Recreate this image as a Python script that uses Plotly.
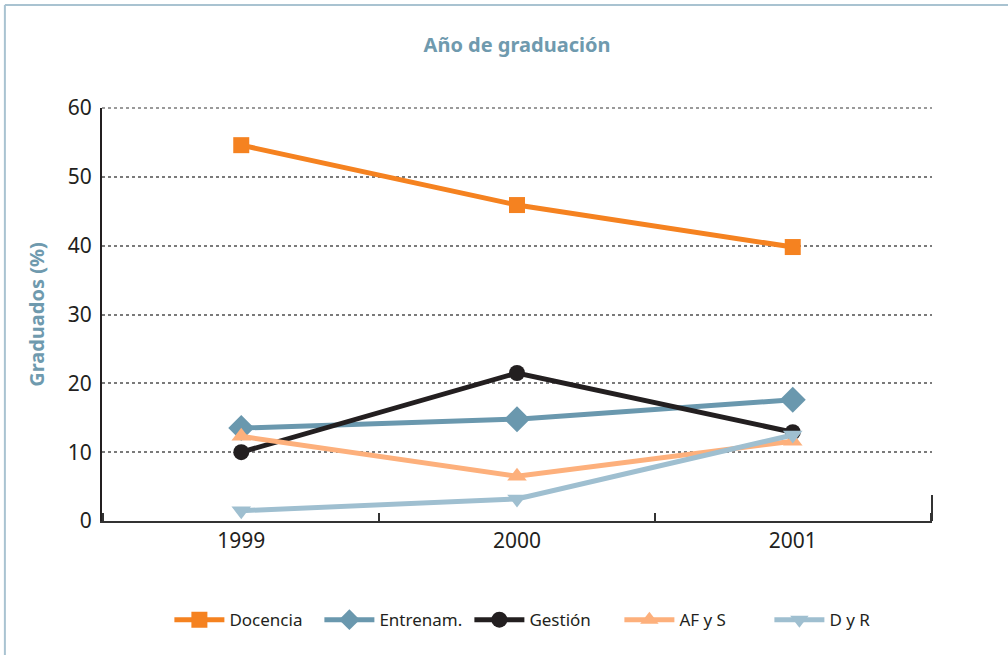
import plotly.graph_objects as go

years = ["1999", "2000", "2001"]
docencia = [54.6, 45.9, 39.8]
entrenam = [13.5, 14.8, 17.6]
gestion = [10.0, 21.5, 12.9]
afys = [12.3, 6.5, 11.6]
dyr = [1.5, 3.2, 12.5]

series = [
    ("Docencia", docencia, "#f58220", "square", 16),
    ("Entrenam.", entrenam, "#6a98ae", "diamond", 20),
    ("Gestión", gestion, "#231f20", "circle", 16),
    ("AF y S", afys, "#fdb07c", "triangle-up", 17),
    ("D y R", dyr, "#9fbfd0", "triangle-down", 17),
]

font_family = "Noto Sans"
title_color = "#6f9aae"
grid_color = "#7a7a7a"

fig = go.Figure()
for name, vals, color, symbol, size in series:
    fig.add_trace(go.Scatter(
        x=years, y=vals, name=name, mode="lines+markers",
        line=dict(color=color, width=5),
        marker=dict(symbol=symbol, size=size, color=color),
    ))

# marco de la figura (arriba e izquierda)
frame_color = "#a9c3d1"
fig.add_shape(type="line", xref="paper", yref="paper", x0=-0.117, x1=1.2, y0=1.2494, y1=1.2494,
              line=dict(color=frame_color, width=2))
fig.add_shape(type="line", xref="paper", yref="paper", x0=-0.117, x1=-0.117, y0=1.2494, y1=-0.4,
              line=dict(color=frame_color, width=2))
# tic largo en el extremo derecho del eje x
fig.add_shape(type="line", xref="paper", yref="paper", x0=1, x1=1, y0=0, y1=0.063,
              line=dict(color="#333333", width=2))
# línea de cuadrícula superior (60), que plotly no dibuja en el borde
fig.add_shape(type="line", xref="paper", yref="paper", x0=0, x1=1, y0=1, y1=1,
              line=dict(color=grid_color, width=1.5, dash="dot"), layer="below")

fig.update_layout(
    width=1008, height=655,
    margin=dict(l=102, r=76, t=108, b=134),
    paper_bgcolor="white", plot_bgcolor="white",
    font=dict(family=font_family, color="#231f20"),
    title=dict(text="<b>Año de graduación</b>", x=0.5, xref="paper", y=1 - 45 / 655,
               yanchor="middle", font=dict(size=20, color=title_color)),
    showlegend=True,
    legend=dict(orientation="h", x=0.533, xanchor="center", y=-0.24, yanchor="middle",
                font=dict(size=17, color="#231f20"), itemwidth=50,
                entrywidth=85, entrywidthmode="pixels"),
    xaxis=dict(
        type="category", range=[-0.505, 2.505],
        showline=True, linecolor="#333333", linewidth=2,
        ticks="inside", tickson="boundaries", ticklen=8, tickwidth=2, tickcolor="#333333",
        showgrid=False, tickfont=dict(size=21), zeroline=False,
    ),
    yaxis=dict(
        range=[0, 60], tickvals=[0, 10, 20, 30, 40, 50, 60],
        showline=True, linecolor="#231f20", linewidth=2,
        showgrid=True, gridcolor=grid_color, griddash="dot", gridwidth=1.5,
        zeroline=False, ticks="", tickfont=dict(size=21), ticklabelstandoff=4,
        title=dict(text="<b>Graduados (%)</b>", font=dict(size=20, color=title_color), standoff=18),
    ),
)

fig.write_html("out.html", config={"displayModeBar": False},
               post_script="document.body.style.margin='0';")
